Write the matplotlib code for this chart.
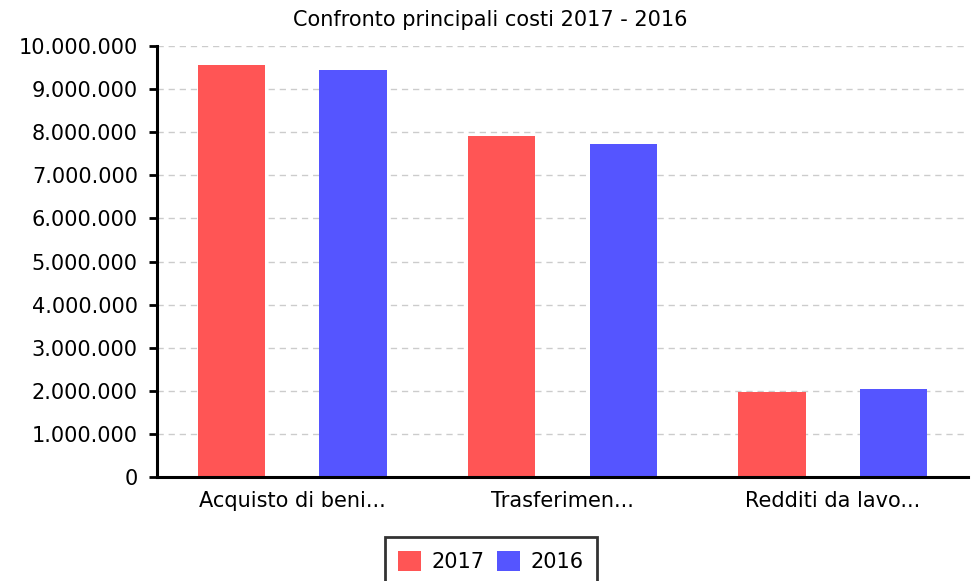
import matplotlib
matplotlib.use("Agg")
import matplotlib.pyplot as plt
import numpy as np
from matplotlib.ticker import FuncFormatter, MultipleLocator
from matplotlib.patches import Patch

categories = ["Acquisto di beni...", "Trasferimen...", "Redditi da lavo..."]
series_names = ["2017", "2016"]
values_2017 = [9550000, 7920000, 1980000]
values_2016 = [9440000, 7720000, 2050000]
colors = ["#FF5555", "#5555FF"]
title = "Confronto principali costi 2017 - 2016"

fig = plt.figure(figsize=(9.78, 5.81), dpi=100)
ax = fig.add_axes([157/978, (581-477)/581, (968-157)/978, (477-46)/581])

x = np.arange(len(categories))
w = 0.25
off = 0.225
ax.bar(x - off, values_2017, width=w, color=colors[0], zorder=2)
ax.bar(x + off, values_2016, width=w, color=colors[1], zorder=2)

ax.set_xlim(-0.5, 2.5)
ax.set_ylim(0, 10000000)
ax.yaxis.set_major_locator(MultipleLocator(1000000))
ax.yaxis.set_major_formatter(FuncFormatter(lambda v, p: f"{int(round(v)):,}".replace(",", ".")))
ax.set_xticks(x)
ax.set_xticklabels(categories)

ax.grid(axis="y", color="#cccccc", linestyle=(0, (4.5, 3.5)), linewidth=1.0, zorder=0)
ax.set_axisbelow(True)

for s in ["top", "right"]:
    ax.spines[s].set_visible(False)
ax.spines["left"].set_linewidth(2.2)
ax.spines["bottom"].set_linewidth(2.2)
ax.spines["left"].set_color("black")
ax.spines["bottom"].set_color("black")

ax.tick_params(axis="y", length=5.8, width=2, labelsize=15, pad=8, colors="black")
ax.tick_params(axis="x", length=0, labelsize=15, pad=10)

fig.text(490/978, 1 - 20/581, title, ha="center", va="center", fontsize=15)

handles = [Patch(facecolor=c, edgecolor="none") for c in colors]
leg = fig.legend(handles, series_names, loc="upper center",
                 bbox_to_anchor=(491/978, 1 - 537/581), ncol=2, fontsize=15,
                 frameon=True, fancybox=False, edgecolor="black",
                 handlelength=1.1, handleheight=1.1, columnspacing=0.6,
                 handletextpad=0.5, borderpad=0.65, borderaxespad=0)
leg.get_frame().set_linewidth(2)

fig.savefig("out.png", dpi=100)
